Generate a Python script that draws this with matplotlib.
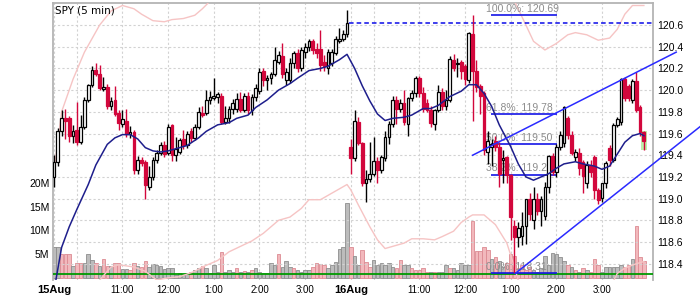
import matplotlib
matplotlib.use('Agg')
import matplotlib.pyplot as plt
from matplotlib.patches import Rectangle

# 5 minute bars, 15 Aug (0-77) and 16 Aug (78-155)
opens = [119.20, 119.34, 119.62, 119.74, 119.74, 119.58, 119.63, 119.52, 119.66, 119.91,
         120.05, 120.19, 120.15, 120.01, 120.03, 119.85, 119.91, 119.79, 119.69, 119.72,
         119.60, 119.61, 119.26, 119.36, 119.34, 119.11, 119.20, 119.36, 119.42, 119.49,
         119.42, 119.68, 119.40, 119.43, 119.55, 119.49, 119.62, 119.56, 119.66, 119.79,
         119.79, 119.91, 119.93, 119.94, 119.95, 119.71, 119.74, 119.83, 119.83, 119.92,
         119.82, 119.95, 119.82, 119.94, 119.99, 120.18, 120.09, 120.11, 120.15, 120.26,
         120.31, 120.09, 120.09, 120.25, 120.34, 120.20, 120.35, 120.40, 120.45, 120.38,
         120.38, 120.26, 120.20, 120.25, 120.34, 120.45, 120.47, 120.52,
         119.48, 119.37, 119.71, 119.51, 119.14, 119.18, 119.23, 119.35, 119.26, 119.37,
         119.57, 119.69, 119.91, 119.83, 119.88, 119.69, 119.93, 119.97, 120.11, 119.97,
         119.88, 119.82, 119.69, 119.82, 119.98, 119.85, 119.91, 120.28, 120.24, 120.26,
         120.22, 120.09, 120.52, 120.18, 120.04, 119.97, 119.43, 119.48, 119.53, 119.48,
         119.36, 119.38, 119.22, 118.75, 118.65, 118.66, 118.75, 119.00, 118.80, 119.00,
         118.89, 118.84, 119.11, 119.39, 119.25, 119.48, 119.51, 119.74, 119.59, 119.38,
         119.42, 119.34, 119.14, 119.31, 119.38, 119.08, 119.01, 119.14, 119.47, 119.36,
         119.68, 119.71, 120.10, 120.04, 119.91, 120.08, 119.84, 119.61]
highs = [119.40, 119.65, 119.82, 119.83, 119.76, 119.68, 119.89, 119.77, 119.94, 120.06,
         120.22, 120.25, 120.23, 120.12, 120.06, 119.94, 120.04, 119.82, 119.82, 119.83,
         119.67, 119.63, 119.39, 119.38, 119.36, 119.30, 119.38, 119.45, 119.52, 119.53,
         119.69, 119.69, 119.57, 119.56, 119.63, 119.62, 119.65, 119.69, 119.84, 119.85,
         120.00, 119.99, 120.11, 119.98, 119.97, 119.85, 119.85, 119.92, 119.97, 119.98,
         119.97, 119.98, 119.96, 120.06, 120.20, 120.20, 120.14, 120.17, 120.40, 120.36,
         120.43, 120.20, 120.30, 120.36, 120.38, 120.40, 120.43, 120.47, 120.47, 120.43,
         120.55, 120.32, 120.38, 120.38, 120.50, 120.57, 120.55, 120.74,
         119.55, 119.82, 119.75, 119.52, 119.26, 119.52, 119.57, 119.38, 119.40, 119.62,
         119.72, 119.95, 119.95, 119.92, 120.00, 119.94, 120.00, 120.13, 120.13, 120.03,
         119.92, 119.85, 119.83, 120.05, 120.02, 120.00, 120.31, 120.33, 120.30, 120.28,
         120.24, 120.54, 120.69, 120.28, 120.06, 119.99, 119.62, 119.55, 119.58, 119.52,
         119.45, 119.39, 119.23, 118.80, 118.78, 118.88, 119.00, 119.05, 119.11, 119.05,
         119.02, 119.15, 119.40, 119.42, 119.50, 119.62, 119.85, 119.76, 119.62, 119.46,
         119.47, 119.36, 119.35, 119.36, 119.40, 119.10, 119.14, 119.35, 119.49, 119.70,
         119.75, 120.11, 120.12, 120.06, 120.10, 120.17, 119.86, 119.62]
lows = [119.11, 119.30, 119.58, 119.55, 119.52, 119.51, 119.49, 119.50, 119.64, 119.89,
        120.03, 120.13, 120.00, 119.99, 119.83, 119.82, 119.76, 119.63, 119.66, 119.57,
        119.56, 119.23, 119.23, 119.30, 119.00, 119.08, 119.17, 119.33, 119.40, 119.38,
        119.40, 119.35, 119.35, 119.41, 119.46, 119.47, 119.52, 119.54, 119.64, 119.75,
        119.77, 119.87, 119.91, 119.88, 119.69, 119.69, 119.70, 119.78, 119.80, 119.80,
        119.80, 119.78, 119.77, 119.90, 119.96, 120.04, 120.00, 120.06, 120.13, 120.24,
        120.11, 120.05, 120.07, 120.20, 120.17, 120.18, 120.30, 120.36, 120.33, 120.30,
        120.18, 120.18, 120.15, 120.22, 120.32, 120.43, 120.45, 120.49,
        119.23, 119.35, 119.49, 119.12, 118.97, 119.15, 119.21, 119.14, 119.24, 119.35,
        119.50, 119.66, 119.69, 119.80, 119.68, 119.58, 119.90, 119.94, 119.94, 119.80,
        119.80, 119.66, 119.63, 119.80, 119.82, 119.82, 119.89, 120.18, 120.12, 120.10,
        120.05, 120.07, 119.72, 119.98, 119.78, 119.40, 119.32, 119.30, 119.44, 119.11,
        119.14, 119.14, 118.62, 118.31, 118.55, 118.57, 118.58, 118.80, 118.72, 118.85,
        118.75, 118.80, 119.05, 119.22, 119.20, 119.45, 119.48, 119.55, 119.40, 119.35,
        119.22, 119.05, 119.10, 119.20, 119.00, 118.95, 118.97, 119.10, 119.30, 119.34,
        119.66, 119.68, 119.90, 119.90, 119.88, 119.80, 119.58, 119.45]
closes = [119.34, 119.62, 119.74, 119.72, 119.58, 119.62, 119.52, 119.66, 119.91, 120.05,
          120.19, 120.15, 120.02, 120.03, 119.85, 119.90, 119.78, 119.70, 119.73, 119.60,
          119.61, 119.26, 119.36, 119.33, 119.13, 119.20, 119.36, 119.42, 119.49, 119.41,
          119.66, 119.40, 119.46, 119.54, 119.49, 119.60, 119.56, 119.66, 119.80, 119.77,
          119.91, 119.94, 119.95, 119.96, 119.71, 119.74, 119.83, 119.88, 119.92, 119.82,
          119.95, 119.82, 119.94, 120.02, 120.17, 120.09, 120.11, 120.15, 120.28, 120.32,
          120.15, 120.17, 120.25, 120.34, 120.20, 120.37, 120.40, 120.45, 120.37, 120.34,
          120.23, 120.22, 120.35, 120.35, 120.47, 120.47, 120.52, 120.62,
          119.37, 119.72, 119.51, 119.14, 119.18, 119.23, 119.35, 119.26, 119.38, 119.57,
          119.69, 119.91, 119.83, 119.88, 119.71, 119.93, 119.97, 120.11, 119.97, 119.83,
          119.82, 119.70, 119.82, 119.98, 119.85, 119.91, 120.29, 120.20, 120.25, 120.18,
          120.10, 120.53, 120.18, 120.03, 119.95, 119.45, 119.53, 119.50, 119.48, 119.23,
          119.37, 119.22, 118.83, 118.65, 118.73, 118.75, 119.00, 118.86, 119.00, 118.89,
          119.00, 119.11, 119.39, 119.25, 119.48, 119.59, 119.84, 119.59, 119.42, 119.43,
          119.28, 119.21, 119.31, 119.25, 119.08, 118.99, 119.14, 119.33, 119.36, 119.68,
          119.73, 120.10, 119.93, 119.93, 120.08, 119.82, 119.61, 119.53]

# volume in millions, and 1 where the bar is drawn pink
volumes = [6.4, 6.5, 5.1, 5.1, 5.1, 2.5, 3.2, 3.2, 3.2, 5.1,
           3.7, 3.2, 2.5, 3.9, 2.5, 2.5, 3.0, 3.0, 1.8, 1.8,
           1.6, 3.2, 2.5, 2.3, 3.5, 2.2, 2.9, 2.7, 2.5, 1.9,
           2.0, 2.0, 0.6, 0.9, 0.6, 0.9, 1.3, 1.6, 2.0, 2.5,
           2.0, 0.9, 2.7, 1.3, 5.4, 1.3, 1.6, 1.3, 2.0, 1.3,
           1.4, 1.3, 1.6, 2.0, 1.3, 0.9, 0.9, 3.0, 2.7, 5.0,
           2.3, 3.6, 2.2, 2.0, 1.6, 1.3, 1.6, 1.6, 2.3, 3.0,
           2.9, 2.7, 2.0, 2.7, 3.4, 6.0, 6.5, 15.7,
           6.4, 4.6, 2.7, 5.8, 3.3, 2.3, 3.8, 2.7, 3.0, 2.7,
           3.0, 2.3, 2.0, 3.8, 2.7, 2.7, 2.0, 1.6, 1.6, 2.0,
           1.3, 1.3, 1.1, 1.3, 1.3, 2.7, 2.0, 2.0, 1.6, 3.0,
           2.7, 2.7, 12.0, 5.6, 5.6, 6.4, 5.9, 4.0, 4.3, 3.5,
           2.3, 3.2, 5.0, 4.6, 2.0, 2.7, 1.6, 2.3, 1.6, 1.3,
           2.0, 4.6, 2.7, 5.2, 4.9, 4.4, 3.5, 2.7, 2.3, 1.6,
           1.3, 2.0, 1.6, 1.3, 4.0, 2.7, 1.3, 2.3, 2.3, 2.3,
           2.3, 2.7, 2.3, 2.7, 3.9, 11.0, 4.4, 3.5]
vol_down = [0, 0, 1, 1, 1, 0, 1, 1, 0, 0,
            0, 1, 0, 1, 1, 0, 1, 1, 0, 0,
            1, 1, 0, 1, 1, 0, 0, 0, 0, 0,
            0, 0, 0, 0, 0, 0, 1, 0, 0, 1,
            0, 0, 0, 0, 1, 0, 0, 0, 1, 0,
            1, 0, 1, 0, 0, 0, 0, 0, 0, 1,
            0, 0, 0, 1, 0, 0, 0, 0, 1, 1,
            1, 1, 0, 0, 0, 0, 0, 0,
            1, 0, 0, 1, 1, 1, 0, 0, 0, 0,
            0, 0, 1, 1, 0, 0, 1, 1, 1, 1,
            1, 0, 1, 0, 0, 0, 1, 0, 0, 0,
            0, 0, 1, 1, 1, 1, 1, 0, 1, 0,
            0, 1, 1, 1, 1, 1, 1, 1, 0, 0,
            0, 0, 0, 0, 0, 0, 0, 1, 0, 1,
            0, 1, 0, 1, 1, 1, 0, 0, 0, 0,
            0, 0, 1, 1, 0, 1, 1, 1]

# 20 bar average and bands, read at a few bars
ma_idx = [0, 2, 4, 6, 9, 11, 14, 16, 18, 20, 22, 24, 26, 28, 30, 33, 35, 38, 40, 43,
          46, 48, 51, 53, 56, 59, 62, 64, 67, 70, 72, 75, 77, 79, 81, 83, 85, 87, 89, 92,
          94, 97, 99, 101, 104, 107, 109, 111, 113, 115, 117, 120, 122, 124, 126, 128, 130,
          132, 134, 137, 139, 142, 144, 146, 148, 150, 152, 154, 155]
ma_val = [118.15, 118.55, 118.74, 118.90, 119.13, 119.31, 119.50, 119.56, 119.59, 119.59,
          119.55, 119.47, 119.44, 119.43, 119.44, 119.47, 119.49, 119.56, 119.62, 119.68,
          119.70, 119.74, 119.77, 119.84, 119.91, 120.00, 120.06, 120.11, 120.18, 120.20,
          120.22, 120.28, 120.33, 120.20, 120.04, 119.90, 119.78, 119.72, 119.74, 119.75,
          119.77, 119.83, 119.83, 119.86, 119.94, 119.99, 120.05, 120.05, 119.97, 119.85,
          119.68, 119.48, 119.32, 119.20, 119.17, 119.20, 119.23, 119.28, 119.32, 119.34,
          119.32, 119.30, 119.27, 119.30, 119.41, 119.52, 119.58, 119.60, 119.58]
upper_idx = [0, 2, 5, 8, 12, 15, 18, 21, 23, 26, 29, 31, 34, 37, 39, 41, 44, 60, 78, 90,
             110, 118, 121, 124, 126, 129, 132, 135, 137, 140, 143, 146, 148, 150, 152, 155]
upper_val = [119.25, 119.80, 120.10, 120.35, 120.60, 120.73, 120.78, 120.75, 120.70, 120.64,
             120.63, 120.65, 120.66, 120.69, 120.75, 120.82, 120.95, 121.20, 121.50, 121.20,
             121.20, 121.00, 120.82, 120.60, 120.45, 120.37, 120.43, 120.51, 120.53, 120.51,
             120.46, 120.48, 120.56, 120.70, 120.78, 120.78]
lower_idx = [0, 10, 12, 15, 17, 21, 24, 27, 30, 33, 37, 39, 43, 46, 49, 52, 55, 59, 62, 65,
             67, 70, 72, 75, 77, 78, 80, 83, 85, 87, 89, 92, 94, 97, 100, 102, 105, 107, 109,
             110, 113, 116, 119, 121, 124, 135, 145, 148, 150, 153, 155]
lower_val = [118.00, 118.10, 118.25, 118.37, 118.39, 118.37, 118.33, 118.25, 118.27, 118.28,
             118.33, 118.37, 118.43, 118.51, 118.56, 118.61, 118.68, 118.80, 118.83, 118.91,
             118.99, 118.99, 119.03, 119.09, 119.13, 119.08, 118.94, 118.74, 118.62, 118.54,
             118.56, 118.59, 118.63, 118.63, 118.62, 118.65, 118.70, 118.78, 118.83, 118.85,
             118.85, 118.76, 118.59, 118.37, 118.00, 117.80, 118.10, 118.31, 118.36, 118.40,
             118.42]

# fibonacci retracement of the 16 Aug drop
fib_labels = ['100.0%: 120.69', '61.8%: 119.78', '50.0%: 119.50', '38.2%: 119.22', '0.0%: 118.31']
fib_levels = [120.69, 119.78, 119.50, 119.22, 118.31]
prev_close = 120.62

# hand drawn channel lines (bar, price)
upper_line = [(110.0, 119.40), (163.5, 120.35)]
lower_line = [(121.2, 118.31), (170.0, 119.67)]

tick_pos = [0, 18, 30, 42, 54, 66, 78, 96, 108, 120, 132, 144]
tick_text = ['15Aug', '11:00', '12:00', '1:00', '2:00', '3:00',
             '16Aug', '11:00', '12:00', '1:00', '2:00', '3:00']
grid_only = [6, 84]
price_ticks = [118.4, 118.6, 118.8, 119.0, 119.2, 119.4, 119.6, 119.8, 120.0, 120.2, 120.4, 120.6]
vol_ticks = [5, 10, 15, 20]

RED = '#d2073c'
GRID = '#d2d2d2'
n = len(closes)
idx = list(range(n))

fig = plt.figure(figsize=(7, 2.95), dpi=100)
ax_vol = fig.add_axes([53 / 700, 15 / 295, 600 / 700, 277 / 295])
ax = ax_vol.twinx()

# volume
vcol = ['#f2b8bc' if d else '#bcbcbc' for d in vol_down]
vedge = ['#dc8a92' if d else '#8e8e8e' for d in vol_down]
ax_vol.bar(idx, volumes, width=0.92, color=vcol, edgecolor=vedge, linewidth=0.6, zorder=2)
ax_vol.axhline(0.72, color='#009a00', lw=1.3, zorder=3)
ax_vol.set_ylim(-0.49, 57.95)
ax_vol.set_xlim(-0.26, 157.4)
ax_vol.set_yticks(vol_ticks)
ax_vol.set_yticklabels(['%dM' % v for v in vol_ticks])
ax_vol.set_xticks(tick_pos)
ax_vol.set_xticklabels(tick_text)
ax_vol.set_xticks(grid_only, minor=True)
ax_vol.grid(True, axis='x', which='both', ls=(0, (2, 2)), color=GRID, lw=0.8)
ax_vol.set_axisbelow(True)
ax_vol.tick_params(axis='y', length=0, pad=2.5, labelsize=7.5)
ax_vol.tick_params(axis='x', which='both', length=0, pad=3.5, labelsize=7)
for lab in ax_vol.get_xticklabels():
    lab.set_fontfamily('Liberation Sans')
    if 'Aug' in lab.get_text():
        lab.set_fontweight('bold')
        lab.set_fontsize(8)
for lab in ax_vol.get_yticklabels():
    lab.set_fontfamily('Liberation Sans')
for side in ['left', 'top', 'right']:
    ax_vol.spines[side].set_color('#b4b4b4')
    ax_vol.spines[side].set_linewidth(1.3)
ax_vol.spines['bottom'].set_visible(False)

# price
ax.set_ylim(118.25, 120.803)
ax.set_yticks(price_ticks)
ax.set_yticklabels(['%.1f' % p for p in price_ticks])
ax.tick_params(axis='y', length=0, pad=3, labelsize=7.5)
for lab in ax.get_yticklabels():
    lab.set_fontfamily('Liberation Sans')
ax.grid(True, axis='y', ls=(0, (2, 2)), color=GRID, lw=0.8)
ax.set_axisbelow(True)
for s in ax.spines.values():
    s.set_visible(False)

ax.plot(upper_idx, upper_val, color='#f6c4c4', lw=1.0, zorder=2)
ax.plot(lower_idx, lower_val, color='#f6c4c4', lw=1.0, zorder=2)

for lab, lev in zip(fib_labels, fib_levels):
    ax.hlines(lev, 114.8, 132.2, colors='#1414e6', lw=1.2, zorder=2.2)
    ax.text(113.4, lev + 0.012, lab, fontsize=7.5, color='#8c8c8c', family='Liberation Sans',
            ha='left', va='bottom', zorder=2.1)

ax.hlines(prev_close, 77.5, 157.4, colors='#0a0ae8', linestyles=(0, (3, 2)), lw=1.1, zorder=2.3)

ax.add_patch(Rectangle((154.2, 119.45), 1.7, 0.17, facecolor='#bdf0a8', edgecolor='none', zorder=2.4))

up = [c >= o for o, c in zip(opens, closes)]
wick_col = ['black' if u else RED for u in up]
ax.vlines(idx, lows, highs, colors=wick_col, lw=1.0, zorder=3)
body_lo = [min(o, c) for o, c in zip(opens, closes)]
body_h = [abs(c - o) for o, c in zip(opens, closes)]
ax.bar(idx, body_h, bottom=body_lo, width=0.72,
       color=['white' if u else RED for u in up],
       edgecolor=['black' if u else RED for u in up], linewidth=0.9, zorder=3.5)

ax.plot(ma_idx, ma_val, color='#1e1e8c', lw=1.1, zorder=4)

for line in (upper_line, lower_line):
    xs = [p[0] for p in line]
    ys = [p[1] for p in line]
    ax.plot(xs, ys, color='#2a2aff', lw=1.1, zorder=5, clip_on=False)

ax.text(0.003, 0.99, 'SPY (5 min)', transform=ax.transAxes, ha='left', va='top',
        fontsize=7.5, family='DejaVu Sans', color='black', zorder=6)

fig.savefig('out.png', dpi=100)
